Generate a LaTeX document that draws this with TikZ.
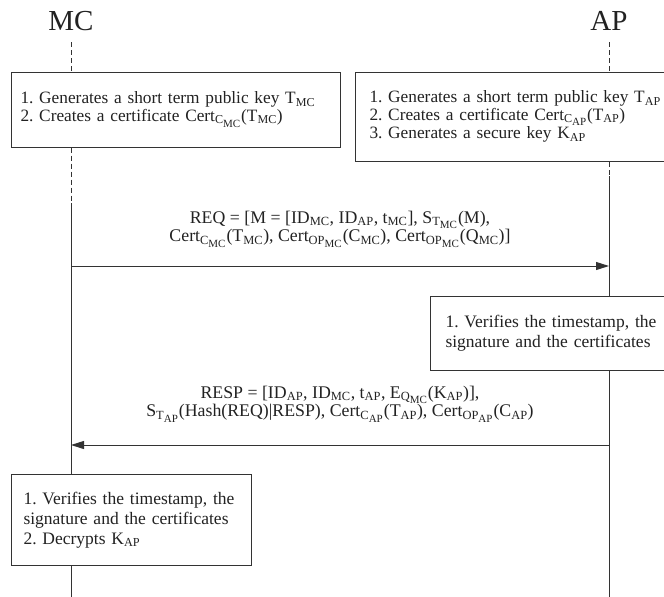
\documentclass[tikz,border=0pt]{standalone}
\usepackage{fontspec}
\setmainfont{Liberation Serif}
\usetikzlibrary{arrows.meta,positioning}
\definecolor{ink}{HTML}{222222}
\definecolor{rule}{HTML}{333333}
\newcommand{\sbs}[1]{\textsubscript{#1}}
\newcommand{\ssbs}[1]{\textsubscript{\fontsize{11}{11}\selectfont #1}}
\frenchspacing
\tikzset{
  % ---- parties and lifelines -------------------------------------
  party/.style      = {font=\fontsize{29}{30}\selectfont, text=ink,
                       inner sep=0pt, anchor=base},
  life/.style       = {draw=rule, line width=1pt},
  lifedash/.style   = {life, dash pattern=on 5pt off 3pt},
  % ---- action boxes ----------------------------------------------
  actbox/.style     = {draw=rule, line width=1pt, fill=white,
                       anchor=north west, align=left, text=ink,
                       inner ysep=0pt, font=\fontsize{17.3}{17.5}\selectfont},
  chkbox/.style     = {actbox, font=\fontsize{17.5}{20}\selectfont},
  % ---- messages --------------------------------------------------
  msg/.style        = {draw=rule, line width=1pt,
                       -{Triangle[length=13pt,width=8pt]}},
  msglab/.style     = {font=\fontsize{17.8}{18.5}\selectfont, text=ink,
                       align=center, inner sep=0pt},
}

\begin{document}
\begin{tikzpicture}[x=1pt,y=-1pt]
  \clip (0,0) rectangle (664,597);
  \node[party] (mc) at (71,30) {MC};
  \node[party] (ap) at (609,30) {AP};
  \coordinate (mctop) at (71,42);
  \coordinate (mcsplit) at (71,203);
  \coordinate (mcfoot) at (71,597);
  \coordinate (aptop) at (609,42);
  \coordinate (apsplit) at (609,176);
  \coordinate (apfoot) at (609,597);
  \node[actbox, inner xsep=9pt, text width=311pt, minimum height=75pt] (mcgen) at (11,71.5)
    {1. Generates a short term public key T\sbs{MC}\\
     2. Creates a certificate Cert\sbs{C\ssbs{MC}}(T\sbs{MC})};
  \node[actbox, inner xsep=14pt, text width=330pt, minimum height=89.5pt] (apgen) at (355,71.5)
    {1. Generates a short term public key T\sbs{AP}\\
     2. Creates a certificate Cert\sbs{C\ssbs{AP}}(T\sbs{AP})\\
     3. Generates a secure key K\sbs{AP}};
  \node[chkbox, inner xsep=15pt, text width=240pt, minimum height=74pt] (apver) at (430,296)
    {1. Verifies the timestamp, the\\
     signature and the certificates};
  \node[chkbox, inner xsep=12pt, text width=216pt, minimum height=91pt] (mcver) at (11,474)
    {1. Verifies the timestamp, the\\
     signature and the certificates\\
     2. Decrypts K\sbs{AP}};
  % lifelines
  \draw[lifedash] (mctop) -- (mcgen.north -| mctop);
  \draw[lifedash] (mcgen.south -| mctop) -- (mcsplit);
  \draw[life] (mcsplit) -- (mcver.north -| mctop);
  \draw[life] (mcver.south -| mctop) -- (mcfoot);
  \draw[lifedash] (aptop) -- (apgen.north -| aptop);
  \draw[lifedash] (apgen.south -| aptop) -- (apsplit);
  \draw[life] (apsplit) -- (apver.north -| aptop);
  \draw[life] (apver.south -| aptop) -- (apfoot);
  % messages
  \coordinate (mcreq) at (71,266);
  \coordinate (apreq) at (609,266);
  \draw[msg] (mcreq) -- (apreq);
  \node[msglab] (reqlab) at (340,229)
    {REQ = [M = [ID\sbs{MC}, ID\sbs{AP}, t\sbs{MC}], S\sbs{T\ssbs{MC}}(M),\\
     Cert\sbs{C\ssbs{MC}}(T\sbs{MC}), Cert\sbs{OP\ssbs{MC}}(C\sbs{MC}), Cert\sbs{OP\ssbs{MC}}(Q\sbs{MC})]};
  \coordinate (apresp) at (609,445);
  \coordinate (mcresp) at (71,445);
  \draw[msg] (apresp) -- (mcresp);
  \node[msglab] (resplab) at (340,404)
    {RESP = [ID\sbs{AP}, ID\sbs{MC}, t\sbs{AP}, E\sbs{Q\ssbs{MC}}(K\sbs{AP})],\\
     S\sbs{T\ssbs{AP}}(Hash(REQ)|RESP), Cert\sbs{C\ssbs{AP}}(T\sbs{AP}), Cert\sbs{OP\ssbs{AP}}(C\sbs{AP})};
\end{tikzpicture}
\end{document}
